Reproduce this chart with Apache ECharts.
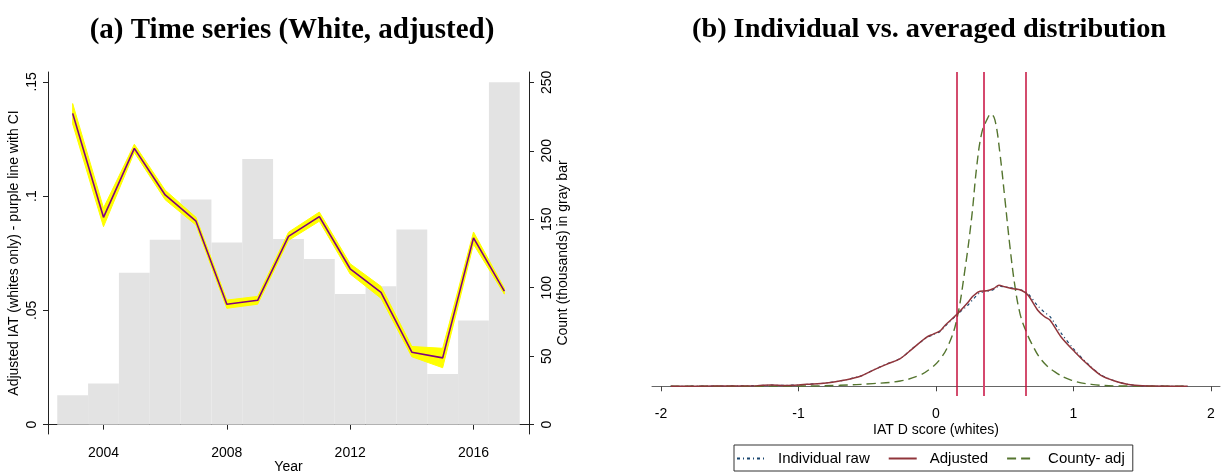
<!DOCTYPE html>
<html lang="en">

<head>
    <meta charset="UTF-8">
    <title>IAT time series and distribution</title>
    <script src="https://cdn.jsdelivr.net/npm/echarts@6.0.0/dist/echarts.min.js"></script>
    <style>
        body {
            margin: 0;
            background: #fff;
        }

        #chart {
            width: 1225px;
            height: 474px;
        }
    </style>
</head>

<body>
    <div id="chart"></div>

    <script>
        // panel (a): yearly values
        const years = [2003, 2004, 2005, 2006, 2007, 2008, 2009, 2010, 2011, 2012, 2013, 2014, 2015, 2016, 2017];
        const countK = [21.5, 30, 111, 135, 164.5, 133, 194, 135.5, 121, 95.5, 101, 142.5, 37, 76, 250];
        const iatAdj = [0.1362, 0.0907, 0.1209, 0.1005, 0.0890, 0.0527, 0.0544, 0.0824, 0.0910, 0.0682, 0.0579, 0.0317, 0.0292, 0.0817, 0.0584];
        const ciHi = [0.1405, 0.0948, 0.1227, 0.1026, 0.0907, 0.0545, 0.0561, 0.0842, 0.0930, 0.0704, 0.0605, 0.0342, 0.0334, 0.0843, 0.0597];
        const ciLo = [0.1316, 0.0866, 0.1191, 0.0984, 0.0873, 0.0509, 0.0527, 0.0806, 0.0890, 0.0659, 0.0553, 0.0297, 0.0249, 0.0789, 0.0571];
        const yearTicks = [2004, 2008, 2012, 2016];
        const iatTicks = [0, 0.05, 0.1, 0.15];
        const iatTickLabels = ["0", ".05", ".1", ".15"];
        const countTicks = [0, 50, 100, 150, 200, 250];

        // panel (b): kernel densities
        const adjX = [-1.93, -1.6, -1.3, -1.2, -1.1, -1.0, -0.94, -0.8, -0.65, -0.55, -0.46, -0.36, -0.26, -0.17, -0.07, -0.02, 0.03, 0.065, 0.15, 0.235, 0.27, 0.32, 0.37, 0.42, 0.458, 0.5, 0.55, 0.62, 0.67, 0.74, 0.79, 0.83, 0.91, 1.01, 1.11, 1.2, 1.3, 1.4, 1.5, 1.83];
        const adjY = [0, 0.002, 0.006, 0.012, 0.008, 0.012, 0.018, 0.03, 0.061, 0.092, 0.147, 0.202, 0.255, 0.347, 0.45, 0.48, 0.51, 0.56, 0.66, 0.776, 0.83, 0.875, 0.878, 0.9, 0.93, 0.915, 0.9, 0.884, 0.838, 0.7, 0.64, 0.608, 0.454, 0.316, 0.193, 0.101, 0.049, 0.016, 0.004, 0];
        const rawY = [0, 0.002, 0.006, 0.01, 0.009, 0.012, 0.018, 0.03, 0.061, 0.094, 0.147, 0.205, 0.255, 0.35, 0.445, 0.475, 0.505, 0.55, 0.655, 0.75, 0.8, 0.86, 0.87, 0.89, 0.92, 0.915, 0.905, 0.885, 0.85, 0.74, 0.68, 0.64, 0.49, 0.33, 0.2, 0.105, 0.05, 0.017, 0.004, 0];
        const cntyX = [-1.93, -1.0, -0.7, -0.46, -0.26, -0.12, -0.04, 0.03, 0.09, 0.15, 0.21, 0.26, 0.296, 0.332, 0.369, 0.40, 0.429, 0.465, 0.502, 0.538, 0.575, 0.611, 0.647, 0.696, 0.769, 0.865, 0.987, 1.13, 1.33, 1.83];
        const cntyY = [0, 0.002, 0.009, 0.025, 0.049, 0.101, 0.163, 0.25, 0.378, 0.608, 1.068, 1.559, 2.019, 2.327, 2.449, 2.505, 2.449, 2.143, 1.713, 1.283, 0.914, 0.669, 0.531, 0.393, 0.239, 0.132, 0.055, 0.018, 0.003, 0];
        const vLines = [0.15, 0.349, 0.648];
        const scoreTicks = [-2, -1, 0, 1, 2];
        const seriesNames = ["Individual raw", "Adjusted", "County- adj"];

        const sans = "Liberation Sans, Arial, sans-serif";
        const serif = "Liberation Serif, Times New Roman, serif";
        const zip = (xs, ys) => xs.map((x, i) => [x, ys[i]]);

        const chart = echarts.init(document.getElementById("chart"));

        const labelStyle = { fontFamily: sans, fontSize: 14, color: "#000" };

        const option = {
            animation: false,
            title: [
                {
                    text: "(a) Time series (White, adjusted)",
                    left: 287, top: 11, textAlign: "center",
                    textStyle: { fontFamily: serif, fontWeight: "bold", fontSize: 29, color: "#000" }
                },
                {
                    text: "(b) Individual vs. averaged distribution",
                    left: 924, top: 11, textAlign: "center",
                    textStyle: { fontFamily: serif, fontWeight: "bold", fontSize: 28.3, color: "#000" }
                }
            ],
            grid: [
                { left: 48, right: 696, top: 72, bottom: 40, outerBoundsMode: "none" },
                { left: 652, right: 5, top: 72, bottom: 78, outerBoundsMode: "none" }
            ],
            legend: {
                data: seriesNames,
                left: 734, top: 445,
                padding: [6, 8, 5, 2],
                itemGap: 18,
                itemWidth: 28,
                itemHeight: 10,
                itemStyle: { opacity: 0 },
                borderColor: "#333",
                borderWidth: 1,
                textStyle: { fontFamily: sans, fontSize: 15, color: "#000", padding: [0, 0, 0, 8] }
            },
            xAxis: [
                {
                    gridIndex: 0, type: "value", min: 2002.2, max: 2017.8,
                    name: "Year", nameLocation: "middle", nameGap: 26, nameMoveOverlap: false,
                    nameTextStyle: labelStyle,
                    axisLine: { lineStyle: { color: "#222" } },
                    axisTick: { length: 5, customValues: yearTicks, lineStyle: { color: "#222" } },
                    axisLabel: Object.assign({ margin: 12, customValues: yearTicks, formatter: v => String(v) }, labelStyle),
                    splitLine: { show: false }
                },
                {
                    gridIndex: 1, type: "value", min: -2.066, max: 2.066,
                    name: "IAT D score (whites)", nameLocation: "middle", nameGap: 27, nameMoveOverlap: false,
                    nameTextStyle: labelStyle,
                    axisLine: { lineStyle: { color: "#666" } },
                    axisTick: { length: 5, customValues: scoreTicks, lineStyle: { color: "#444" } },
                    axisLabel: Object.assign({ margin: 11, customValues: scoreTicks, showMinLabel: true, showMaxLabel: true }, labelStyle),
                    splitLine: { show: false }
                }
            ],
            yAxis: [
                {
                    gridIndex: 0, type: "value", min: -0.0041, max: 0.1543, position: "left",
                    name: "Adjusted IAT (whites only) - purple line with CI",
                    nameLocation: "middle", nameGap: 27, nameRotate: 90, nameMoveOverlap: false,
                    nameTextStyle: labelStyle,
                    axisLine: { show: true, lineStyle: { color: "#222" } },
                    axisTick: { show: true, length: 5, customValues: iatTicks, lineStyle: { color: "#222" } },
                    axisLabel: Object.assign({
                        rotate: 90, margin: 9, customValues: iatTicks,
                        formatter: v => iatTickLabels[iatTicks.indexOf(v)]
                    }, labelStyle),
                    splitLine: { show: false }
                },
                {
                    gridIndex: 0, type: "value", min: -6.79, max: 257.5, position: "right",
                    name: "Count (thousands) in gray bar",
                    nameLocation: "middle", nameGap: 27, nameRotate: 90, nameMoveOverlap: false,
                    nameTextStyle: labelStyle,
                    axisLine: { show: true, lineStyle: { color: "#222" } },
                    axisTick: { show: true, length: 5, customValues: countTicks, lineStyle: { color: "#222" } },
                    axisLabel: Object.assign({ rotate: 90, margin: 11, customValues: countTicks }, labelStyle),
                    splitLine: { show: false }
                },
                {
                    gridIndex: 1, type: "value", min: -0.0893, max: 2.891, show: false
                }
            ],
            series: [
                {
                    // gray bars, one year wide, on the right axis
                    type: "custom", xAxisIndex: 0, yAxisIndex: 1, z: 1, silent: true,
                    data: zip(years, countK),
                    renderItem: (params, api) => {
                        const yr = api.value(0), v = api.value(1);
                        const p0 = api.coord([yr - 0.5, v]);
                        const p1 = api.coord([yr + 0.5, 0]);
                        return {
                            type: "rect",
                            shape: { x: p0[0], y: p0[1], width: p1[0] - p0[0], height: p1[1] - p0[1] },
                            style: { fill: "#e3e3e3" }
                        };
                    }
                },
                {
                    // confidence band as one polygon
                    type: "custom", xAxisIndex: 0, yAxisIndex: 0, z: 2, silent: true,
                    data: years.map((y, i) => [y, ciHi[i], ciLo[i]]),
                    renderItem: (params, api) => {
                        if (params.dataIndex !== 0) return null;
                        const top = years.map((y, i) => api.coord([y, ciHi[i]]));
                        const bot = years.map((y, i) => api.coord([y, ciLo[i]])).reverse();
                        return {
                            type: "polygon",
                            shape: { points: top.concat(bot) },
                            style: { fill: "#ffff00", stroke: "#ffff00", lineWidth: 1, lineJoin: "round" }
                        };
                    }
                },
                {
                    type: "line", xAxisIndex: 0, yAxisIndex: 0, z: 3,
                    data: zip(years, iatAdj),
                    symbol: "none",
                    lineStyle: { color: "#800080", width: 1.6 },
                    itemStyle: { color: "#800080" }
                },
                {
                    name: seriesNames[0], type: "line", xAxisIndex: 1, yAxisIndex: 2, z: 4,
                    data: zip(adjX, rawY), smooth: 0.3, symbol: "none",
                    lineStyle: { color: "#1a476f", width: 1.2, type: [3, 3, 1, 3] },
                    itemStyle: { color: "#1a476f" }
                },
                {
                    name: seriesNames[1], type: "line", xAxisIndex: 1, yAxisIndex: 2, z: 5,
                    data: zip(adjX, adjY), smooth: 0.3, symbol: "none",
                    lineStyle: { color: "#90353b", width: 1.5 },
                    itemStyle: { color: "#90353b" }
                },
                {
                    name: seriesNames[2], type: "line", xAxisIndex: 1, yAxisIndex: 2, z: 4,
                    data: zip(cntyX, cntyY), smooth: 0.4, symbol: "none",
                    lineStyle: { color: "#55752f", width: 1.4, type: [9, 5] },
                    itemStyle: { color: "#55752f" },
                    markLine: {
                        silent: true, symbol: "none", label: { show: false }, animation: false,
                        data: vLines.map((x, i) => ({
                            xAxis: x,
                            lineStyle: { type: "solid", color: i === 1 ? "#d5486e" : "#c4103c", width: i === 1 ? 2 : 1.5 }
                        }))
                    }
                }
            ]
        };

        chart.setOption(option);
    </script>
</body>

</html>
